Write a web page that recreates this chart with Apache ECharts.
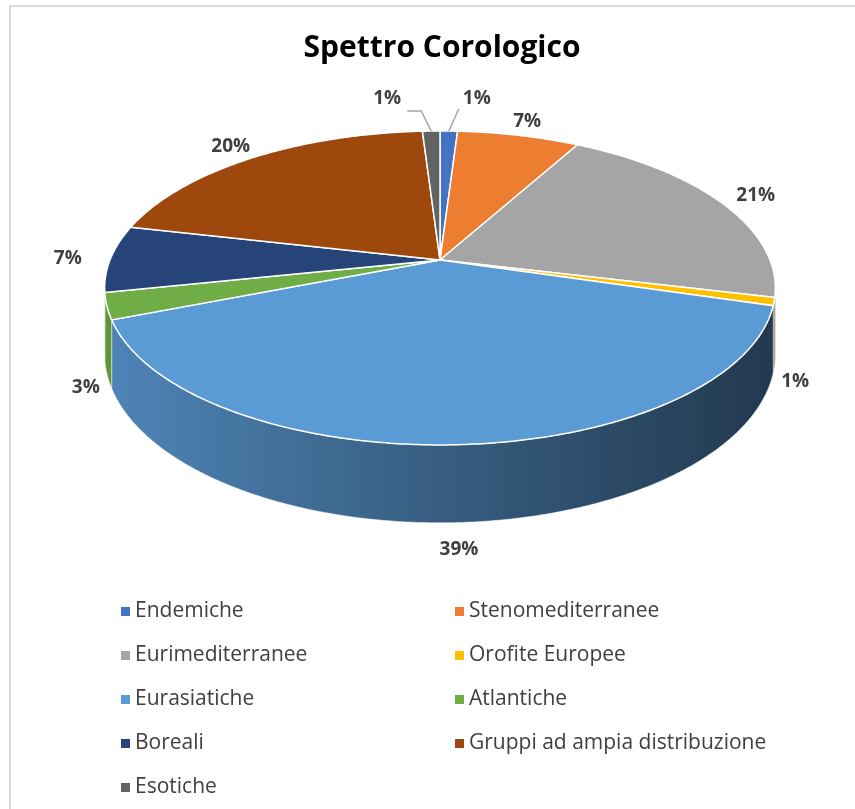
<!DOCTYPE html>
<html>
<head>
<meta charset="utf-8">
<script src="https://cdn.jsdelivr.net/npm/echarts@6/dist/echarts.min.js"></script>
<style>
  html, body { margin: 0; padding: 0; background: #fff; }
  #chart { width: 855px; height: 809px; }
</style>
</head>
<body>
<div id="chart"></div>
<script>
const categories = ["Endemiche", "Stenomediterranee", "Eurimediterranee", "Orofite Europee",
  "Eurasiatiche", "Atlantiche", "Boreali", "Gruppi ad ampia distribuzione", "Esotiche"];
const values = [1.0, 7.0, 20.8, 0.8, 39.4, 2.7, 6.9, 20.4, 1.0];
const colors = ["#4472c4", "#ed7d31", "#a5a5a5", "#ffc000", "#5b9bd5", "#70ad47", "#264478", "#9e480e", "#636363"];
const leftLegend = ["Endemiche", "Eurimediterranee", "Eurasiatiche", "Boreali", "Esotiche"];
const rightLegend = ["Stenomediterranee", "Orofite Europee", "Atlantiche", "Gruppi ad ampia distribuzione"];

// pie geometry (simple perspective of a tilted disc)
const CX = 440, CY = 260, RX = 330, RY = 152, K = 0.178, DEPTH = 64;
const total = values.reduce((a, b) => a + b, 0);
const starts = [];
values.reduce((acc, v, i) => { starts[i] = acc; return acc + v; }, 0);

function proj(phi, r, dz) {
  const u = r * Math.sin(phi), v = -r * Math.cos(phi);
  const f = 1 / (1 - K * v);
  return [CX + RX * u * f, CY + (RY * v + dz) * f];
}

function shade(hex, k) {
  const n = parseInt(hex.slice(1), 16);
  const c = [(n >> 16) & 255, (n >> 8) & 255, n & 255].map(x => Math.round(x * k));
  return "rgb(" + c.join(",") + ")";
}

function arc(a0, a1, r, dz) {
  const pts = [];
  const steps = Math.max(2, Math.ceil((a1 - a0) / 0.01));
  for (let s = 0; s <= steps; s++) pts.push(proj(a0 + (a1 - a0) * s / steps, r, dz));
  return pts;
}

const visFrom = Math.acos(-K), visTo = 2 * Math.PI - Math.acos(-K);

function renderSlice(idx) {
  return function (params, api) {
    const a0 = starts[idx] / total * 2 * Math.PI;
    const a1 = (starts[idx] + values[idx]) / total * 2 * Math.PI;
    const color = colors[idx];
    const children = [];
    // side wall
    const w0 = Math.max(a0, visFrom), w1 = Math.min(a1, visTo);
    if (w1 > w0) {
      const top = arc(w0, w1, 1, 0);
      const bot = arc(w0, w1, 1, DEPTH).reverse();
      children.push({
        type: "polygon",
        shape: { points: top.concat(bot) },
        style: {
          fill: new echarts.graphic.LinearGradient(CX - RX * 1.02, 0, CX + RX * 1.02, 0, [
            { offset: 0, color: shade(color, 0.86) },
            { offset: 0.5, color: shade(color, 0.6) },
            { offset: 1, color: shade(color, 0.37) }
          ], true),
          stroke: "rgba(255,255,255,0.6)",
          lineWidth: 0.8
        }
      });
    }
    // top face
    children.push({
      type: "polygon",
      shape: { points: [[CX, CY]].concat(arc(a0, a1, 1, 0)) },
      style: { fill: color, stroke: "#fff", lineWidth: 1.5 }
    });
    // data label
    const mid = (a0 + a1) / 2;
    const vMid = -Math.cos(mid);
    const pct = Math.round(values[idx] / total * 100) + "%";
    let lp;
    if (values[idx] / total < 0.02 && vMid < -0.9) {
      const rim = proj(mid, 1, 0);
      const side = Math.sin(mid) >= 0 ? 1 : -1;
      lp = [rim[0] + side * (side > 0 ? 28 : 44), rim[1] - 32];
      const pts = side > 0
        ? [[rim[0], rim[1]], [rim[0] + 10, rim[1] - 22]]
        : [[rim[0], rim[1]], [rim[0] - 10, rim[1] - 20], [rim[0] - 24, rim[1] - 20]];
      children.push({
        type: "polyline",
        shape: { points: pts },
        style: { stroke: "#a6a6a6", lineWidth: 1.5, fill: null }
      });
    } else if (vMid > 0.15) {
      lp = proj(mid, 1.06, DEPTH + 10);
    } else {
      lp = proj(mid, 1.13, 0);
    }
    children.push({
      type: "text",
      x: lp[0], y: lp[1],
      style: {
        text: pct, fill: "#404040", align: "center", verticalAlign: "middle",
        font: "bold 19px 'Open Sans', 'Noto Sans', sans-serif"
      }
    });
    return { type: "group", children: children };
  };
}

const chart = echarts.init(document.getElementById("chart"));
chart.setOption({
  animation: false,
  color: colors,
  title: {
    text: "Spettro Corologico",
    left: 437,
    textAlign: "center",
    top: 28,
    textStyle: { fontFamily: "Open Sans", fontWeight: "bold", fontSize: 30, color: "#000" }
  },
  graphic: [
    { type: "line", shape: { x1: 9, y1: 6, x2: 855, y2: 6 }, style: { stroke: "#d9d9d9", lineWidth: 2 } },
    { type: "line", shape: { x1: 10, y1: 6, x2: 10, y2: 809 }, style: { stroke: "#d9d9d9", lineWidth: 2 } }
  ],
  legend: [
    {
      data: leftLegend, orient: "vertical", left: 116, top: 592, itemGap: 15,
      icon: "rect", itemWidth: 9, itemHeight: 9,
      textStyle: { fontFamily: "Open Sans", fontSize: 21, color: "#404040", lineHeight: 29 }
    },
    {
      data: rightLegend, orient: "vertical", left: 450, top: 592, itemGap: 15,
      icon: "rect", itemWidth: 9, itemHeight: 9,
      textStyle: { fontFamily: "Open Sans", fontSize: 21, color: "#404040", lineHeight: 29 }
    }
  ],
  series: categories.map((name, i) => ({
    type: "custom",
    name: name,
    coordinateSystem: "none",
    itemStyle: { color: colors[i] },
    renderItem: renderSlice(i),
    data: [[values[i]]]
  }))
});
</script>
</body>
</html>
